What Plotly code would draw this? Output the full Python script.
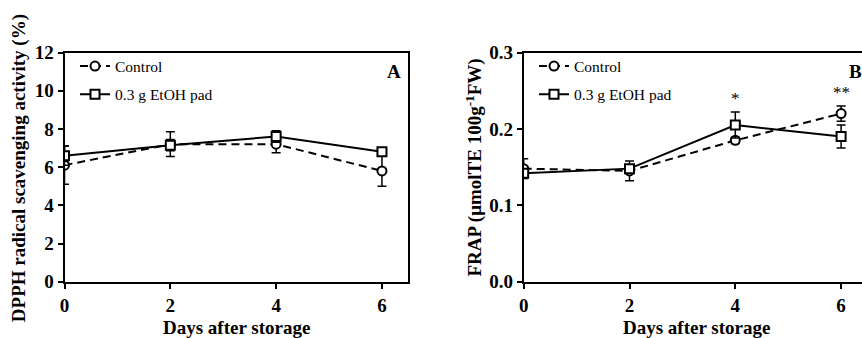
import plotly.graph_objects as go

W, H = 862, 338

days = [0, 2, 4, 6]
x_ticks = [0, 2, 4, 6]

# Panel A: DPPH (%)
dpph_control = [6.1, 7.2, 7.2, 5.8]
dpph_control_err = [1.0, 0.65, 0.45, 0.8]
dpph_pad = [6.6, 7.15, 7.6, 6.8]
dpph_pad_err = [0.5, 0.3, 0.3, 0.15]
dpph_ticks = [0, 2, 4, 6, 8, 10, 12]

# Panel B: FRAP
frap_control = [0.148, 0.145, 0.185, 0.220]
frap_control_err = [0.013, 0.013, 0.004, 0.010]
frap_pad = [0.142, 0.148, 0.205, 0.190]
frap_pad_err = [0.006, 0.004, 0.017, 0.015]
frap_ticks = [0.0, 0.1, 0.2, 0.3]
frap_ticktext = ["0.0", "0.1", "0.2", "0.3"]
frap_sig = ["", "", "*", "**"]

SERIF = "Liberation Serif, Times New Roman, serif"


def px(x):
    return x / W


def py(y):
    return (H - y) / H


fig = go.Figure()


def add_series(xa, ya, ctrl, ctrl_err, pad, pad_err, legend):
    fig.add_trace(go.Scatter(
        x=days, y=ctrl, name="Control", mode="lines+markers",
        xaxis=xa, yaxis=ya, legend=legend, legendgroup="c",
        line=dict(color="black", width=2, dash="8px,5px"),
        marker=dict(symbol="circle", size=9, color="white",
                    line=dict(color="black", width=2)),
        error_y=dict(type="data", array=ctrl_err, visible=True,
                     color="black", thickness=1.5, width=4.5),
    ))
    fig.add_trace(go.Scatter(
        x=days, y=pad, name="0.3 g EtOH pad", mode="lines+markers",
        xaxis=xa, yaxis=ya, legend=legend, legendgroup="p",
        line=dict(color="black", width=2),
        marker=dict(symbol="square", size=9, color="white",
                    line=dict(color="black", width=2)),
        error_y=dict(type="data", array=pad_err, visible=True,
                     color="black", thickness=1.5, width=4.5),
    ))


add_series("x", "y", dpph_control, dpph_control_err, dpph_pad, dpph_pad_err, "legend")
add_series("x2", "y2", frap_control, frap_control_err, frap_pad, frap_pad_err, "legend2")

# significance stars above the highest error bar
for d, s, c, ce, p, pe in zip(days, frap_sig, frap_control, frap_control_err, frap_pad, frap_pad_err):
    if s:
        top = max(c + ce, p + pe)
        fig.add_annotation(x=d, y=top + 0.003, xref="x2", yref="y2", text=s,
                           showarrow=False, yanchor="bottom",
                           font=dict(family=SERIF, size=17, color="black"))

ydom = [py(281.7), py(52.5)]
axis_common = dict(
    showgrid=False, zeroline=False, showline=True, linecolor="black", linewidth=2,
    ticks="outside", ticklen=5, tickwidth=2, tickcolor="black",
    tickfont=dict(family=SERIF, size=19, color="black", weight="bold"),
)

xa_dom = [px(64.5), px(408.4)]
xb_dom = [px(523.7), 1.0]
xb_max = (862 - 523.7) / 52.9

legend_font = dict(family=SERIF, size=15.5, color="black")
fig.update_layout(
    width=W, height=H, margin=dict(l=0, r=0, t=0, b=0, autoexpand=False),
    paper_bgcolor="white", plot_bgcolor="white",
    xaxis=dict(domain=xa_dom, range=[0, 6.5], tickvals=x_ticks, mirror=True,
               anchor="y", **axis_common),
    yaxis=dict(domain=ydom, range=[0, 12], tickvals=dpph_ticks, mirror=True,
               anchor="x", **axis_common),
    xaxis2=dict(domain=xb_dom, range=[0, xb_max], tickvals=x_ticks, mirror=True,
                anchor="y2", **axis_common),
    yaxis2=dict(domain=ydom, range=[0, 0.3], tickvals=frap_ticks,
                ticktext=frap_ticktext, mirror=False, anchor="x2", **axis_common),
    legend=dict(x=px(75), y=py(49.5), xanchor="left", yanchor="top",
                bgcolor="rgba(0,0,0,0)", traceorder="grouped", tracegroupgap=5,
                font=legend_font),
    legend2=dict(x=px(534), y=py(49.5), xanchor="left", yanchor="top",
                 bgcolor="rgba(0,0,0,0)", traceorder="grouped", tracegroupgap=5,
                 font=legend_font),
    showlegend=True,
)

title_font = dict(family=SERIF, size=19, color="black", weight="bold")
# Axis titles
fig.add_annotation(x=px(236.5), y=py(327), xref="paper", yref="paper",
                   text="Days after storage", showarrow=False, font=title_font,
                   xanchor="center", yanchor="middle")
fig.add_annotation(x=px(696), y=py(327), xref="paper", yref="paper",
                   text="Days after storage", showarrow=False, font=title_font,
                   xanchor="center", yanchor="middle")
fig.add_annotation(x=px(18.7), y=py(168.5), xref="paper", yref="paper",
                   text="DPPH radical scavenging activity (%)", textangle=-90,
                   showarrow=False, font=title_font, xanchor="center", yanchor="middle")
fig.add_annotation(x=px(473.5), y=py(167), xref="paper", yref="paper",
                   text="FRAP (μmolTE 100g<sup>-1</sup>FW)", textangle=-90,
                   showarrow=False, font=title_font, xanchor="center", yanchor="middle")
# Panel letters
fig.add_annotation(x=px(403), y=py(71.7), xref="paper", yref="paper", text="A",
                   showarrow=False, font=title_font, xanchor="right", yanchor="middle")
fig.add_annotation(x=px(847), y=py(71.7), xref="paper", yref="paper", text="B",
                   showarrow=False, font=title_font, xanchor="left", yanchor="middle")

fig.write_html(
    "out.html",
    config={"displayModeBar": False},
    post_script="document.body.style.margin='0px';document.body.style.overflow='hidden';",
)
